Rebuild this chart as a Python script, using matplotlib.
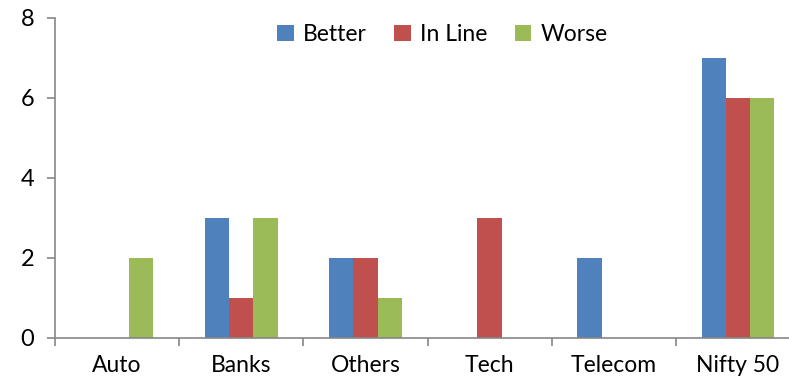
import numpy as np
import matplotlib.pyplot as plt

categories = ["Auto", "Banks", "Others", "Tech", "Telecom", "Nifty 50"]
better = [0, 3, 2, 0, 2, 7]
in_line = [0, 1, 2, 3, 0, 6]
worse = [2, 3, 1, 0, 0, 6]

series = [("Better", better, "#4F81BD"),
          ("In Line", in_line, "#C0504D"),
          ("Worse", worse, "#9BBB59")]

plt.rcParams['font.family'] = ['Lato', 'DejaVu Sans']
axis_grey = "#868686"

fig = plt.figure(figsize=(7.89, 3.84), dpi=100)
ax = fig.add_axes([55 / 789, 46 / 384, 745 / 789, 320 / 384])

x = np.arange(len(categories))
w = 0.195
for i, (name, vals, col) in enumerate(series):
    ax.bar(x + (i - 1) * w, vals, w, color=col, label=name, zorder=2)

ax.set_xlim(-0.5, len(categories) - 0.5)
ax.set_ylim(0, 8)
ax.set_yticks([0, 2, 4, 6, 8])

# category labels centred, tick marks on the boundaries
ax.set_xticks(x)
ax.set_xticklabels(categories, fontsize=16.5)
ax.tick_params(axis='x', length=0, pad=12)
ax.set_xticks(np.arange(len(categories) + 1) - 0.5, minor=True)
ax.tick_params(axis='x', which='minor', length=6, width=1.2, color=axis_grey, direction='out')
ax.tick_params(axis='y', length=6, width=1.2, color=axis_grey, labelsize=17, pad=9)

for side in ["top", "right"]:
    ax.spines[side].set_visible(False)
for side in ["left", "bottom"]:
    ax.spines[side].set_color(axis_grey)
    ax.spines[side].set_linewidth(1.2)

ax.legend(loc="upper center", bbox_to_anchor=(0.52, 1.045), ncol=3, frameon=False,
          fontsize=16.5, handlelength=0.72, handleheight=0.72, handletextpad=0.4,
          columnspacing=1.2)

fig.savefig("out.png", dpi=100)
